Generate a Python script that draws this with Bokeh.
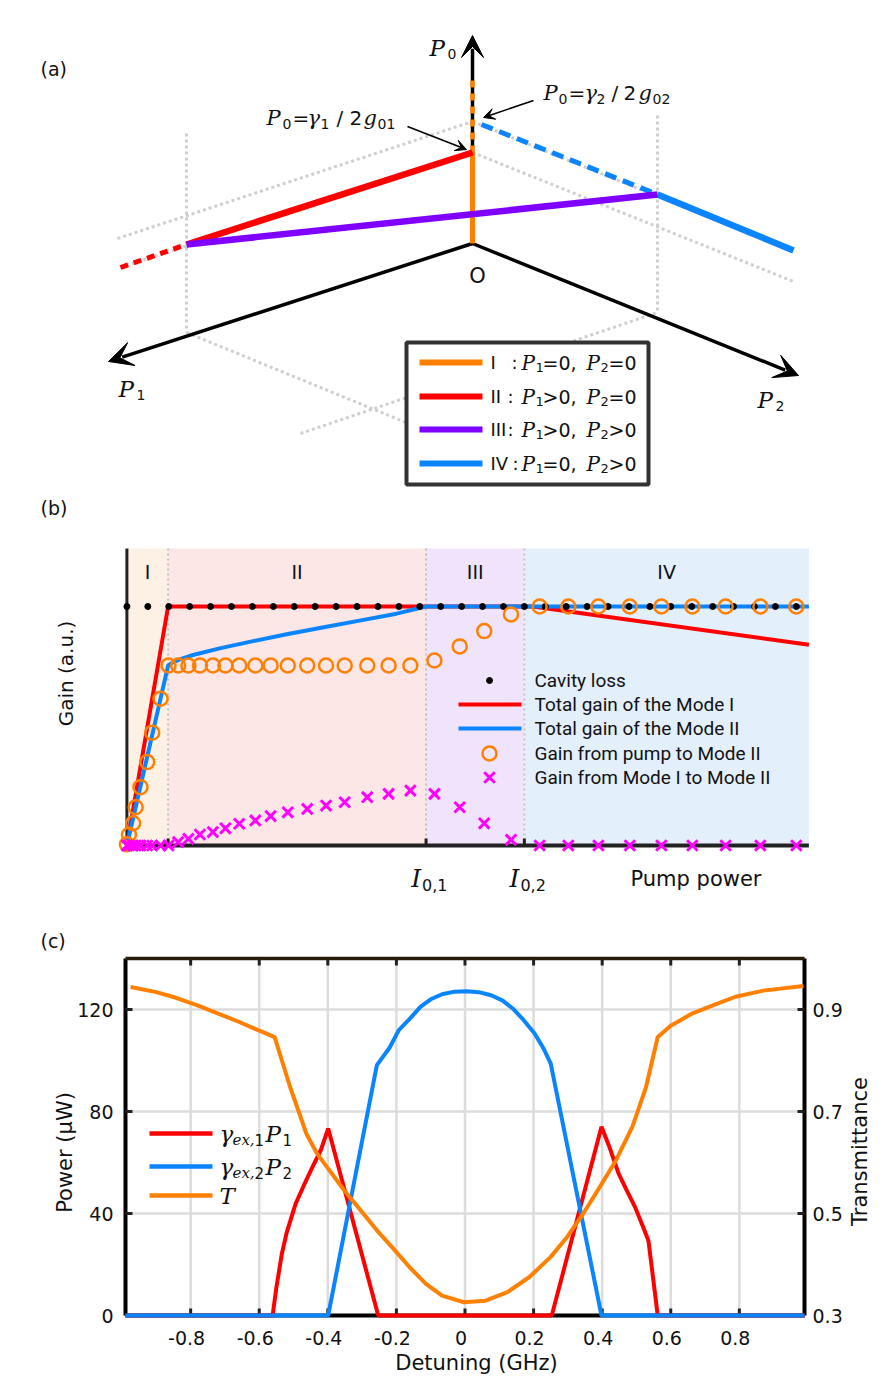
import math
from bokeh.plotting import figure
from bokeh.layouts import column
from bokeh.models import Range1d, Arrow, VeeHead
from bokeh.core.properties import value
from bokeh.embed import file_html
from bokeh.resources import INLINE

SANS = "DejaVu Sans"
SERIF = "DejaVu Serif"
NARROW = "Roboto"
ORANGE = "#ff8000"
RED = "#ff0000"
PURPLE = "#7f00ff"
BLUE = "#0a84ff"
MAGENTA = "#ff00ff"
GUIDE = "#cfcfcf"
INK = "#111111"

# ---------------------------------------------------------------------------
# (a) regime diagram in (P1, P2, P0) space, drawn in page pixels
# ---------------------------------------------------------------------------
origin = (472, 243)
p0_tip = (472, 35)
p1_tip = (108, 361)
p2_tip = (798, 375)
thr1 = (472, 152)          # P0 = gamma1 / 2 g01
thr2 = (472, 121)          # P0 = gamma2 / 2 g02
mode1_end = (186, 244)
mode2_end = (657, 194)
red_far = (120, 267)
blue_start = (481, 124)
blue_far = (793, 250)
p0_dash_top = 80

guides = [
    ((117, 238), (472, 121)),
    ((120, 267), (472, 152)),
    ((472, 152), (793, 281)),
    ((472, 121), (793, 251)),
    ((186, 133), (186, 332)),
    ((657, 115), (657, 312)),
    ((186, 332), (420, 428)),
    ((300, 433), (657, 312)),
]

regime_names = ["I", "II", "III", "IV"]
regime_p1 = ["=0,", ">0,", ">0,", "=0,"]
regime_p2 = ["=0", "=0", ">0", ">0"]
regime_colors = [ORANGE, RED, PURPLE, BLUE]

# ---------------------------------------------------------------------------
# (b) gain versus pump power
# ---------------------------------------------------------------------------
region_edges = [0.0, 1.97, 14.3, 19.0, 32.6]
region_names = ["I", "II", "III", "IV"]
region_fills = ["#fdf1e6", "#fce6e6", "#efe4fb", "#e4effc"]

cavity_x = list(range(33))
cavity_loss = [1.0] * 33

mode1_x = [0.0, 1.97, 19.4, 32.6]
mode1_gain = [0.0, 1.0, 1.0, 0.84]

mode2_x = [0.0, 1.97, 2.2, 2.5, 3.16, 4.48, 6.03, 7.58, 9.35, 11.12, 12.89, 14.3, 32.6]
mode2_gain = [0.0, 0.753, 0.766, 0.778, 0.797, 0.826, 0.855, 0.883, 0.912, 0.941, 0.970, 1.0, 1.0]

sample_x = [0.00, 0.10, 0.30, 0.42, 0.65, 0.97, 1.21, 1.61, 1.99,
            2.45, 2.94, 3.49, 4.11, 4.71, 5.37, 6.14, 6.87, 7.69, 8.62,
            9.52, 10.41, 11.49, 12.51, 13.55,
            14.70, 15.91, 17.08, 18.36,
            19.73, 21.10, 22.54, 24.04, 25.55, 27.03, 28.62, 30.28, 32.00]
pump_to_mode2 = [0.005, 0.045, 0.093, 0.160, 0.244, 0.349, 0.472, 0.614, 0.753,
                 0.753, 0.753, 0.753, 0.753, 0.753, 0.753, 0.753, 0.753, 0.753, 0.753,
                 0.753, 0.753, 0.753, 0.753, 0.753,
                 0.774, 0.833, 0.897, 0.967,
                 1.0, 1.0, 1.0, 1.0, 1.0, 1.0, 1.0, 1.0, 1.0]
mode1_to_mode2 = [0.0, 0.0, 0.0, 0.0, 0.0, 0.0, 0.0, 0.0, 0.0,
                  0.014, 0.028, 0.046, 0.056, 0.072, 0.091, 0.105, 0.123, 0.139, 0.153,
                  0.167, 0.181, 0.202, 0.216, 0.230,
                  0.216, 0.160, 0.093, 0.024,
                  0.0, 0.0, 0.0, 0.0, 0.0, 0.0, 0.0, 0.0, 0.0]
legend_b = ["Cavity loss", "Total gain of the Mode I", "Total gain of the Mode II",
            "Gain from pump to Mode II", "Gain from Mode I to Mode II"]
threshold_subs = ["0,1", "0,2"]

# ---------------------------------------------------------------------------
# (c) powers and transmittance versus detuning
# ---------------------------------------------------------------------------
det_red = [-0.99, -0.561, -0.55, -0.534, -0.52, -0.494, -0.47, -0.447, -0.42, -0.399, -0.253,
           0.253, 0.398, 0.42, 0.448, 0.472, 0.496, 0.52, 0.535, 0.562, 0.99]
power_red = [0, 0, 11.0, 24.2, 32.5, 43.8, 51.0, 57.6, 65.0, 73.3, 0,
             0, 74.0, 66.5, 55.6, 49.0, 42.5, 34.5, 29.3, 0, 0]

det_blue = [-0.99, -0.399, -0.257, -0.22, -0.193, -0.16, -0.13, -0.10, -0.067, -0.03,
            0.005, 0.04, 0.076, 0.11, 0.139, 0.17, 0.203, 0.23, 0.25, 0.398, 0.99]
power_blue = [0, 0, 98.2, 105.0, 111.9, 116.5, 121.0, 124.0, 126.0, 127.0,
              127.2, 126.8, 125.6, 123.5, 120.4, 116.0, 110.6, 104.5, 98.8, 0, 0]

det_T = [-0.975, -0.90, -0.843, -0.78, -0.716, -0.66, -0.605, -0.555,
         -0.534, -0.51, -0.486, -0.463, -0.431, -0.399, -0.352, -0.304, -0.257,
         -0.209, -0.162, -0.114, -0.067, -0.003, 0.06, 0.124, 0.187, 0.25,
         0.298, 0.345, 0.393, 0.44, 0.488, 0.528, 0.562, 0.6, 0.662, 0.73,
         0.789, 0.87, 0.987]
trans_T = [0.944, 0.934, 0.923, 0.908, 0.891, 0.876, 0.860, 0.846,
           0.800, 0.748, 0.702, 0.657, 0.617, 0.588, 0.545, 0.506, 0.467,
           0.431, 0.395, 0.362, 0.339, 0.326, 0.329, 0.346, 0.375, 0.415,
           0.454, 0.500, 0.552, 0.604, 0.670, 0.748, 0.846, 0.868, 0.892, 0.910,
           0.925, 0.937, 0.946]

det_ticks = [-0.8, -0.6, -0.4, -0.2, 0, 0.2, 0.4, 0.6, 0.8]
det_tick_labels = ["-0.8", "-0.6", "-0.4", "-0.2", "0", "0.2", "0.4", "0.6", "0.8"]
power_ticks = [0, 40, 80, 120]
power_tick_labels = ["0", "40", "80", "120"]
trans_ticks = [0.3, 0.5, 0.7, 0.9]
trans_tick_labels = ["0.3", "0.5", "0.7", "0.9"]


def canvas(height, xr, yr):
    p = figure(width=890, height=height, x_range=Range1d(*xr), y_range=Range1d(*yr),
               x_axis_type=None, y_axis_type=None, toolbar_location=None,
               output_backend="svg", min_border=0)
    p.outline_line_color = None
    return p


def put(p, x, y, text, size, font=SANS, style="normal", align="left",
        baseline="middle", angle=0.0, color=INK, **kw):
    p.text(x=[x], y=[y], text=[text], text_font=value(font), text_font_size=size,
           text_font_style=style, text_align=align, text_baseline=baseline,
           angle=angle, text_color=color, **kw)


def seg(p, a, b, **kw):
    p.segment(x0=[a[0]], y0=[a[1]], x1=[b[0]], y1=[b[1]], **kw)


def math_run(p, y, pieces, main="21px", rm="20px", sub="14px", drop=6):
    """Typeset a short formula from italic letters, upright symbols and subscripts."""
    for x, txt, kind in pieces:
        if kind == "it":
            put(p, x, y, txt, main, font=SERIF, style="italic")
        elif kind == "rm":
            put(p, x, y, txt, rm)
        else:
            put(p, x, y + drop, txt, sub)


def axis_arrow(p, start, tip, head):
    dx, dy = tip[0] - start[0], tip[1] - start[1]
    n = math.hypot(dx, dy)
    shaft_end = (tip[0] - dx / n * head * 0.6, tip[1] - dy / n * head * 0.6)
    seg(p, start, shaft_end, line_color="black", line_width=3.5)
    p.add_layout(Arrow(end=VeeHead(size=head, fill_color="black", line_color="black", line_width=1),
                       x_start=start[0], y_start=start[1], x_end=tip[0], y_end=tip[1],
                       line_alpha=0.0))


# ----------------------------- panel (a) -----------------------------------
pa = canvas(490, (0, 890), (490, 0))

pa.segment(x0=[g[0][0] for g in guides], y0=[g[0][1] for g in guides],
           x1=[g[1][0] for g in guides], y1=[g[1][1] for g in guides],
           line_color=GUIDE, line_width=3, line_dash="3 3")

axis_arrow(pa, origin, p0_tip, 22)
axis_arrow(pa, origin, p1_tip, 24)
axis_arrow(pa, origin, p2_tip, 24)

seg(pa, origin, thr1, line_color=ORANGE, line_width=5)
seg(pa, thr1, (thr1[0], p0_dash_top), line_color=ORANGE, line_width=4.5, line_dash="7 6")
seg(pa, red_far, mode1_end, line_color=RED, line_width=5, line_dash="8 6")
seg(pa, mode1_end, thr1, line_color=RED, line_width=6.5)
seg(pa, blue_start, mode2_end, line_color=BLUE, line_width=5, line_dash="12 7")
seg(pa, mode2_end, blue_far, line_color=BLUE, line_width=6.5)
seg(pa, mode1_end, mode2_end, line_color=PURPLE, line_width=6.5)

for start, tip in [((407, 126), (466, 149)), ((533, 100), (483, 117))]:
    pa.add_layout(Arrow(end=VeeHead(size=11, fill_color="black", line_color="black", line_width=1),
                        x_start=start[0], y_start=start[1], x_end=tip[0], y_end=tip[1],
                        line_width=1.6, line_color="black"))

put(pa, 40, 68, "(a)", "19px")
put(pa, 477, 275, "O", "21px", align="center")
math_run(pa, 47, [(429, "P", "it"), (447, "0", "sub")], main="23px")
math_run(pa, 388, [(118, "P", "it"), (136, "1", "sub")], main="23px")
math_run(pa, 399, [(757, "P", "it"), (775, "2", "sub")], main="23px")
math_run(pa, 117, [(266, "P", "it"), (282, "0", "sub"), (292, "=", "rm"), (307, "\u03b3", "it"),
                   (320, "1", "sub"), (336, "/", "rm"), (349, "2", "rm"), (363, "g", "it"),
                   (377, "01", "sub")])
math_run(pa, 92, [(543, "P", "it"), (558, "0", "sub"), (568, "=", "rm"), (584, "\u03b3", "it"),
                  (596, "2", "sub"), (611, "/", "rm"), (623, "2", "rm"), (638, "g", "it"),
                  (652, "02", "sub")])

rows_y = [362, 396, 429, 463]
pa.quad(left=[406], right=[648], top=[342], bottom=[484],
        fill_color="white", line_color="#333333", line_width=4)
pa.segment(x0=419, x1=482, y0=rows_y, y1=rows_y, line_color=regime_colors, line_width=6)
pa.text(x=490, y=rows_y, text=regime_names, text_font=value(SANS), text_font_size="18px",
        text_baseline="middle", text_color=INK)
pa.text(x=[511, 507, 507, 512], y=rows_y, text=[":"] * 4, text_font=value(SANS),
        text_font_size="18px", text_baseline="middle", text_color=INK)
for ry, r1, r2 in zip(rows_y, regime_p1, regime_p2):
    math_run(pa, ry, [(521, "P", "it"), (535, "1", "sub"), (542, r1, "rm"),
                      (586, "P", "it"), (600, "2", "sub"), (608, r2, "rm")],
             main="20px", rm="19px", sub="13px", drop=5)


# ----------------------------- panel (b) -----------------------------------
def bx(px):
    return (px - 126.4) / 20.92


def by(py):
    return (845.0 - py) / 239.0


Y_TOP = by(548)
pb = canvas(410, (bx(0), bx(890)), (by(900), by(490)))

pb.quad(left=region_edges[:-1], right=region_edges[1:], bottom=0, top=Y_TOP,
        fill_color=region_fills, line_color=None)
pb.segment(x0=region_edges[1:4], x1=region_edges[1:4], y0=0, y1=Y_TOP,
           line_color="#c2c2c2", line_width=2, line_dash="2 3")
centers = [(a + b) / 2 for a, b in zip(region_edges[:-1], region_edges[1:])]
pb.text(x=centers, y=by(571), text=region_names, text_font=value(SANS), text_font_size="19px",
        text_align="center", text_baseline="middle", text_color=INK)

pb.segment(x0=[0, 0], y0=[by(849), 0], x1=[0, region_edges[-1]], y1=[Y_TOP, 0],
           line_color="#222222", line_width=[3, 4])
pb.segment(x0=region_edges[1:4], x1=region_edges[1:4], y0=0, y1=by(838),
           line_color="#222222", line_width=3)

pb.line(mode1_x, mode1_gain, line_color=RED, line_width=4)
pb.line(mode2_x, mode2_gain, line_color=BLUE, line_width=4)
pb.scatter(cavity_x, cavity_loss, marker="circle", size=6, fill_color="black", line_color="black")
pb.scatter(sample_x, pump_to_mode2, marker="circle", size=14, fill_color=None,
           line_color=ORANGE, line_width=2.5)
pb.scatter(sample_x, mode1_to_mode2, marker="x", size=15, line_color=MAGENTA, line_width=3)

leg_rows = [by(680), by(704), by(728), by(753), by(777)]
pb.scatter([bx(489)], [leg_rows[0]], marker="circle", size=6, fill_color="black", line_color="black")
pb.segment(x0=bx(458), x1=bx(521), y0=leg_rows[1:3], y1=leg_rows[1:3],
           line_color=[RED, BLUE], line_width=4)
pb.scatter([bx(489)], [leg_rows[3]], marker="circle", size=14, fill_color=None,
           line_color=ORANGE, line_width=2.5)
pb.scatter([bx(489)], [leg_rows[4]], marker="x", size=15, line_color=MAGENTA, line_width=3)
pb.text(x=bx(534), y=leg_rows, text=legend_b, text_font=value(NARROW), text_font_size="19px",
        text_baseline="middle", text_color=INK)

put(pb, bx(40), by(507), "(b)", "19px")
put(pb, bx(65), by(673), "Gain (a.u.)", "20px", align="center", angle=math.pi / 2)
put(pb, bx(630), by(878), "Pump power", "21px")
for edge, sub in zip(region_edges[2:4], threshold_subs):
    put(pb, edge, by(878), "I", "25px", font=SERIF, style="italic", align="right",
        x_offset=-5)
    put(pb, edge, by(884), sub, "16px", x_offset=-4)


# ----------------------------- panel (c) -----------------------------------
def cx(px):
    return (px - 464.5) / 342.93


def cy(py):
    return (1315.0 - py) / 2.55


def ct(py):
    return 0.3 + (1315.0 - py) / 357.0 * 0.7


XL, XR = -0.99, 0.99
YB, YT = 0.0, 140.0
pc = canvas(480, (cx(0), cx(890)), (cy(1380), cy(900)))
pc.extra_y_ranges = {"trans": Range1d(ct(1380), ct(900))}

# grid
pc.segment(x0=det_ticks, x1=det_ticks, y0=YB, y1=YT, line_color="#dcdcdc", line_width=2.5)
pc.segment(x0=XL, x1=XR, y0=power_ticks[1:], y1=power_ticks[1:], line_color="#dcdcdc", line_width=2.5)

# frame and inward ticks
pc.segment(x0=[XL, XR, XL], x1=[XL, XR, XR], y0=[YB, YB, YB], y1=[YT, YT, YB],
           line_color="black", line_width=4)
pc.segment(x0=[XL], x1=[XR], y0=[YT], y1=[YT], line_color="#2a1a08", line_width=3.5)
pc.segment(x0=det_ticks, x1=det_ticks, y0=YB, y1=cy(1308), line_color="#222222", line_width=3)
pc.segment(x0=det_ticks, x1=det_ticks, y0=YT, y1=cy(965), line_color="#222222", line_width=3)
pc.segment(x0=XL, x1=cx(132), y0=power_ticks, y1=power_ticks, line_color="#222222", line_width=3)
pc.segment(x0=XR, x1=cx(797), y0=trans_ticks, y1=trans_ticks, line_color="#222222",
           line_width=3, y_range_name="trans")

# tick labels
pc.text(x=det_ticks, y=cy(1337), text=det_tick_labels, text_font=value(SANS),
        text_font_size="19px", text_align="center", text_baseline="middle",
        text_color=INK, x_offset=-4)
pc.text(x=cx(113), y=power_ticks, text=power_tick_labels, text_font=value(SANS),
        text_font_size="19px", text_align="right", text_baseline="middle", text_color=INK)
pc.text(x=cx(812), y=trans_ticks, text=trans_tick_labels, text_font=value(SANS),
        text_font_size="19px", text_align="left", text_baseline="middle", text_color=INK,
        y_range_name="trans")

# curves
pc.line(det_red, power_red, line_color=RED, line_width=4)
pc.line(det_blue, power_blue, line_color=BLUE, line_width=4)
pc.line(det_T, trans_T, line_color=ORANGE, line_width=4, y_range_name="trans")

# legend
leg_y = [cy(1133), cy(1166), cy(1195)]
pc.segment(x0=cx(149), x1=cx(212), y0=leg_y, y1=leg_y,
           line_color=[RED, BLUE, ORANGE], line_width=4.5)
for row, idx in [(0, "1"), (1, "2")]:
    put(pc, cx(219), leg_y[row], "\u03b3", "23px", font=SERIF, style="italic")
    put(pc, cx(232), leg_y[row] - 2.6, "ex,", "15px", font=SERIF, style="italic")
    put(pc, cx(254), leg_y[row] - 2.6, idx, "15px")
    put(pc, cx(265), leg_y[row], "P", "23px", font=SERIF, style="italic")
    put(pc, cx(282), leg_y[row] - 2.6, idx, "15px")
put(pc, cx(219), leg_y[2], "T", "23px", font=SERIF, style="italic")

put(pc, cx(40), cy(940), "(c)", "19px")
put(pc, cx(64), cy(1152), "Power (\u03bcW)", "21px", align="center", angle=math.pi / 2)
put(pc, cx(859), cy(1151), "Transmittance", "21px", align="center", angle=math.pi / 2)
put(pc, cx(476), cy(1362), "Detuning (GHz)", "21px", align="center")

page = column(pa, pb, pc, spacing=0)
open("out.html", "w").write(file_html(page, INLINE))
